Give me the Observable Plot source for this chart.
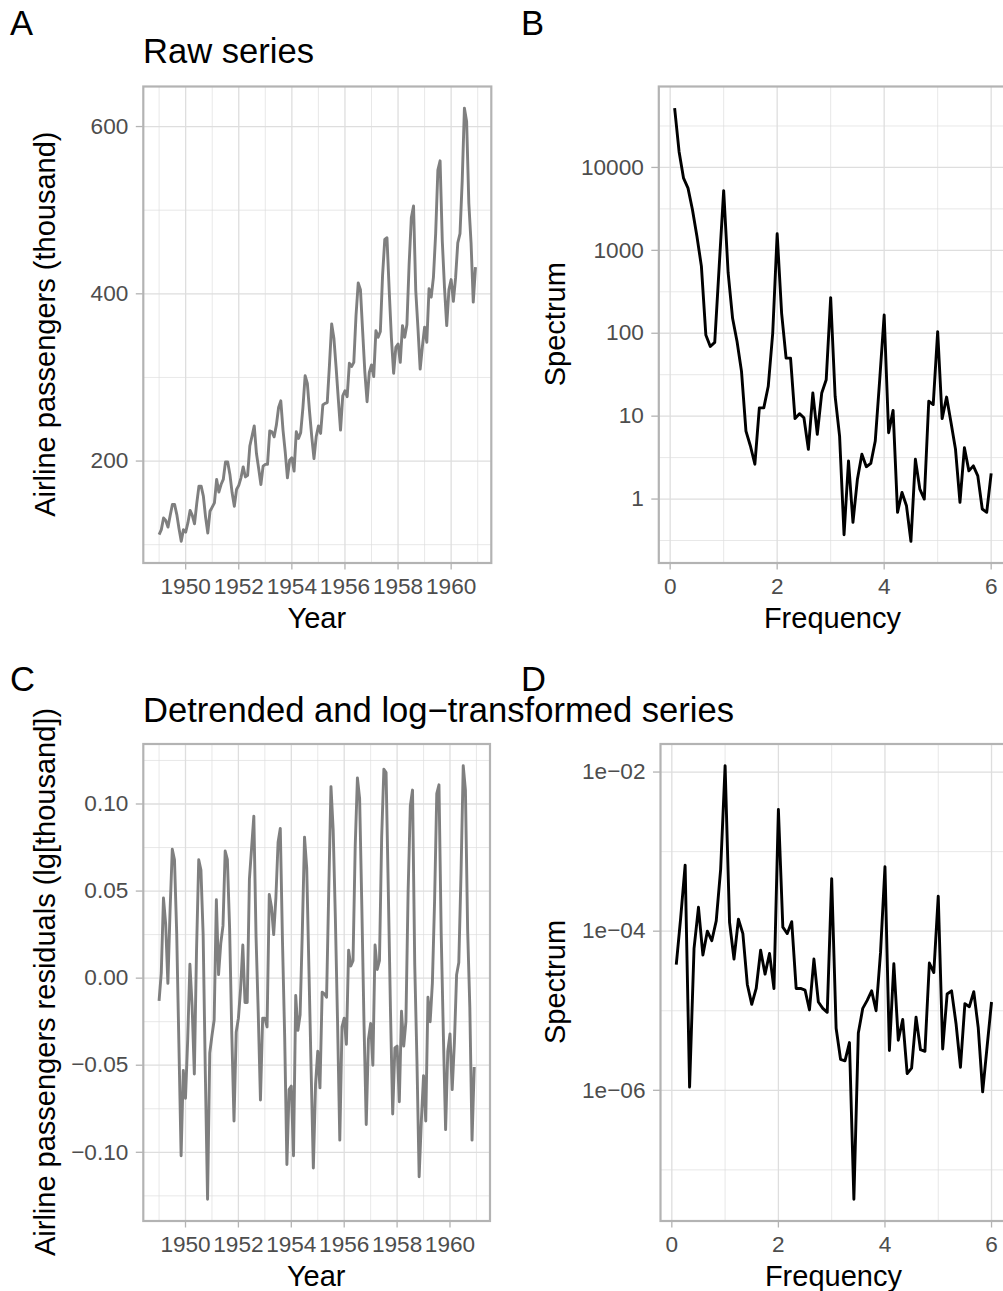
<!DOCTYPE html>
<html><head><meta charset="utf-8">
<script src="https://cdn.jsdelivr.net/npm/d3@7"></script>
<script src="https://cdn.jsdelivr.net/npm/@observablehq/plot@0.6"></script>
<style>
html,body{margin:0;padding:0;background:#fff;overflow:hidden;}
#page{position:relative;width:1003px;height:1291px;overflow:hidden;font-family:"Liberation Sans",Arial,sans-serif;}
.pane{position:absolute;}
.pane svg{max-width:none!important;}
g[aria-label$="tick"]{stroke:#b3b3b3;}
#overlay{position:absolute;left:0;top:0;pointer-events:none;}
</style>
</head><body><div id="page"></div>
<script>
// ---- data ----
const startYear = 1949;
const monthsPerYear = 12;
const passengers = [
112,118,132,129,121,135,148,148,136,119,104,118,
115,126,141,135,125,149,170,170,158,133,114,140,
145,150,178,163,172,178,199,199,184,162,146,166,
171,180,193,181,183,218,230,242,209,191,172,194,
196,196,236,235,229,243,264,272,237,211,180,201,
204,188,235,227,234,264,302,293,259,229,203,229,
242,233,267,269,270,315,364,347,312,274,237,278,
284,277,317,313,318,374,413,405,355,306,271,306,
315,301,356,348,355,422,465,467,404,347,305,336,
340,318,362,348,363,435,491,505,404,359,310,337,
360,342,406,396,420,472,548,559,463,407,362,405,
417,391,419,461,472,535,622,606,508,461,390,432];
const residuals = [
-0.013,0.003,0.046,0.031,-0.003,0.039,0.074,0.068,0.026,-0.038,-0.102,-0.053,
-0.069,-0.035,0.008,-0.016,-0.055,0.016,0.068,0.062,0.025,-0.055,-0.127,-0.043,
-0.033,-0.024,0.045,0.002,0.020,0.030,0.073,0.068,0.029,-0.032,-0.082,-0.031,
-0.023,-0.006,0.019,-0.014,-0.014,0.057,0.075,0.093,0.024,-0.020,-0.070,-0.023,
-0.023,-0.028,0.048,0.041,0.025,0.046,0.078,0.086,0.021,-0.034,-0.107,-0.064,
-0.062,-0.102,-0.010,-0.030,-0.021,0.027,0.081,0.063,0.005,-0.053,-0.109,-0.061,
-0.042,-0.063,-0.008,-0.009,-0.011,0.051,0.110,0.085,0.034,-0.026,-0.093,-0.028,
-0.023,-0.038,0.016,0.007,0.010,0.076,0.115,0.103,0.041,-0.027,-0.084,-0.035,
-0.026,-0.050,0.019,0.005,0.010,0.081,0.120,0.118,0.051,-0.019,-0.078,-0.040,
-0.039,-0.071,-0.019,-0.039,-0.025,0.050,0.099,0.108,0.008,-0.047,-0.114,-0.082,
-0.056,-0.082,-0.011,-0.025,-0.003,0.044,0.106,0.111,0.026,-0.033,-0.087,-0.042,
-0.032,-0.064,-0.037,0.002,0.009,0.060,0.122,0.108,0.028,-0.017,-0.093,-0.051];
// spectra, as log10 of the spectral density, at frequencies 1/12 ... 6 cycles per year
const specRawLog10 = [
4.715,4.19,3.87,3.75,3.49,3.17,2.81,1.98,1.84,1.89,2.81,3.72,
2.73,2.18,1.90,1.54,0.82,0.64,0.42,1.10,1.10,1.36,2.00,3.20,
2.24,1.70,1.70,0.97,1.03,0.98,0.60,1.28,0.78,1.28,1.44,2.43,
1.24,0.76,-0.43,0.46,-0.28,0.24,0.54,0.39,0.43,0.70,1.44,2.22,
0.80,1.07,-0.16,0.08,-0.08,-0.51,0.48,0.12,0.00,1.18,1.14,2.02,
0.97,1.23,0.92,0.60,-0.04,0.62,0.34,0.40,0.28,-0.12,-0.16,0.31];
const specDetLog10 = [
-4.42,-3.83,-3.17,-5.96,-4.22,-3.70,-4.30,-4.00,-4.12,-3.87,-3.22,-1.92,
-3.89,-4.35,-3.85,-4.03,-4.67,-4.92,-4.72,-4.24,-4.54,-4.28,-4.72,-2.47,
-3.95,-4.03,-3.88,-4.72,-4.72,-4.74,-4.99,-4.35,-4.89,-4.97,-5.02,-3.34,
-5.22,-5.61,-5.63,-5.40,-7.37,-5.28,-4.97,-4.87,-4.75,-5.00,-4.27,-3.19,
-5.50,-4.41,-5.37,-5.11,-5.79,-5.72,-5.08,-5.49,-5.51,-4.40,-4.52,-3.56,
-5.48,-4.79,-4.75,-5.16,-5.71,-4.91,-4.95,-4.76,-5.21,-6.02,-5.45,-4.89];

// ticks
const yearTicks = [1950,1952,1954,1956,1958,1960];
const yearMinor = [1949,1951,1953,1955,1957,1959,1961];
const rawTicks = [200,400,600];
const rawMinor = [100,300,500];
const resTicks = [-0.10,-0.05,0,0.05,0.10];
const resLabels = ["\u22120.10","\u22120.05","0.00","0.05","0.10"];
const resMinor = [-0.125,-0.075,-0.025,0.025,0.075,0.125];
const freqTicks = [0,2,4,6];
const freqMinor = [1,3,5];
const rawSpecTicks = [1,10,100,1000,10000];
const rawSpecLabels = ["1","10","100","1000","10000"];
const rawSpecMinor = [0.316228,3.16228,31.6228,316.228,3162.28,31622.8];
const detSpecTicks = [1e-2,1e-4,1e-6];
const detSpecLabels = ["1e\u221202","1e\u221204","1e\u221206"];
const detSpecMinor = [1e-3,1e-5,1e-7];

// ---- tables ----
const rawTable = passengers.map((v,i)=>({t:startYear+i/monthsPerYear, v}));
const resTable = residuals.map((v,i)=>({t:startYear+i/monthsPerYear, v}));
const rawSpecTable = specRawLog10.map((e,i)=>({f:(i+1)/monthsPerYear, s:Math.pow(10,e)}));
const detSpecTable = specDetLog10.map((e,i)=>({f:(i+1)/monthsPerYear, s:Math.pow(10,e)}));

// ggplot-like 5% expansion
const expand = ([a,b]) => {const r=b-a; return [a-0.05*r, b+0.05*r];};
const expandLog = ([a,b]) => {const la=Math.log10(a), lb=Math.log10(b), r=lb-la; return [Math.pow(10,la-0.05*r), Math.pow(10,lb+0.05*r)];};
const fmt = (vals, labels) => {const m=new Map(vals.map((v,i)=>[v, labels[i]])); return d=>m.get(d);};

const FONT = '"Liberation Sans", Arial, sans-serif';
const GRID = "#dedede";
const BORDER = "#b3b3b3";
const TICKTXT = "#4d4d4d";

function panel({left, top, width, height, margins, data, x, y, xDomain, yDomain, yType, xTicks, xLabels, xMinor, yTicks, yLabels, yMinor, stroke}) {
  const p = Plot.plot({
    width, height,
    marginLeft: margins[0], marginRight: margins[1], marginTop: margins[2], marginBottom: margins[3],
    style: {fontFamily: FONT, background: "transparent", overflow: "visible"},
    x: {domain: xDomain, label: null},
    y: {domain: yDomain, type: yType || "linear", label: null},
    marks: [
      Plot.gridX(xMinor, {stroke: GRID, strokeOpacity: 1, strokeWidth: 0.7}),
      Plot.gridY(yMinor, {stroke: GRID, strokeOpacity: 1, strokeWidth: 0.7}),
      Plot.gridX(xTicks, {stroke: GRID, strokeOpacity: 1, strokeWidth: 1.3}),
      Plot.gridY(yTicks, {stroke: GRID, strokeOpacity: 1, strokeWidth: 1.3}),
      Plot.line(data, {x, y, stroke, strokeWidth: 2.9, strokeLinejoin: "round", strokeLinecap: "butt"}),
      Plot.frame({stroke: BORDER, strokeWidth: 2.2}),
      Plot.axisX(xTicks, {tickSize: 7, tickPadding: 8, strokeWidth: 1.3, stroke: BORDER, fill: TICKTXT, fontSize: 22.6, tickFormat: fmt(xTicks, xLabels), label: null}),
      Plot.axisY(yTicks, {tickSize: 7, tickPadding: 8, strokeWidth: 1.3, stroke: BORDER, fill: TICKTXT, fontSize: 22.6, tickFormat: fmt(yTicks, yLabels), label: null})
    ]
  });
  const div = document.createElement("div");
  div.className = "pane";
  div.style.left = left + "px"; div.style.top = top + "px";
  div.style.width = width + "px"; div.style.height = height + "px";
  div.appendChild(p);
  document.getElementById("page").appendChild(div);
}

const tExtent = d3.extent(rawTable, d=>d.t);
const fExtent = d3.extent(rawSpecTable, d=>d.f);

// A
panel({left:0, top:0, width:500, height:650, margins:[142.8, 9.2, 86, 87.5],
  data: rawTable, x:"t", y:"v", xDomain: expand(tExtent), yDomain: expand(d3.extent(passengers)),
  xTicks: yearTicks, xLabels: yearTicks.map(String), xMinor: yearMinor,
  yTicks: rawTicks, yLabels: rawTicks.map(String), yMinor: rawMinor, stroke: "#7f7f7f"});
// B
panel({left:500, top:0, width:520, height:650, margins:[158.3, 13.5, 86, 87.5],
  data: rawSpecTable, x:"f", y:"s", xDomain: expand(fExtent), yDomain: expandLog(d3.extent(rawSpecTable, d=>d.s)), yType:"log",
  xTicks: freqTicks, xLabels: freqTicks.map(String), xMinor: freqMinor,
  yTicks: rawSpecTicks, yLabels: rawSpecLabels, yMinor: rawSpecMinor, stroke: "#000"});
// C
panel({left:0, top:650, width:500, height:641, margins:[142.8, 10.5, 93.5, 70.5],
  data: resTable, x:"t", y:"v", xDomain: expand(tExtent), yDomain: expand(d3.extent(residuals)),
  xTicks: yearTicks, xLabels: yearTicks.map(String), xMinor: yearMinor,
  yTicks: resTicks, yLabels: resLabels, yMinor: resMinor, stroke: "#7f7f7f"});
// D
panel({left:500, top:650, width:520, height:641, margins:[160, 13.2, 93.5, 70.5],
  data: detSpecTable, x:"f", y:"s", xDomain: expand(fExtent), yDomain: expandLog(d3.extent(detSpecTable, d=>d.s)), yType:"log",
  xTicks: freqTicks, xLabels: freqTicks.map(String), xMinor: freqMinor,
  yTicks: detSpecTicks, yLabels: detSpecLabels, yMinor: detSpecMinor, stroke: "#000"});

// ---- free text: tags, titles, axis titles ----
const texts = [
  {s:"A", x:10, y:35, size:34.6},
  {s:"B", x:521, y:35, size:34.6},
  {s:"C", x:10, y:691, size:34.6},
  {s:"D", x:521, y:691, size:34.6},
  {s:"Raw series", x:143, y:63, size:34.6},
  {s:"Detrended and log\u2212transformed series", x:143, y:722, size:34.6},
  {s:"Year", x:316.8, y:628, size:29, anchor:"middle"},
  {s:"Frequency", x:832.4, y:628, size:29, anchor:"middle"},
  {s:"Year", x:316.2, y:1286, size:29, anchor:"middle"},
  {s:"Frequency", x:833.4, y:1286, size:29, anchor:"middle"},
  {s:"Airline passengers (thousand)", x:55, y:324.2, size:29, anchor:"middle", rot:true},
  {s:"Spectrum", x:565, y:324.2, size:29, anchor:"middle", rot:true},
  {s:"Airline passengers residuals (lg[thousand])", x:55, y:982, size:29, anchor:"middle", rot:true},
  {s:"Spectrum", x:565, y:982, size:29, anchor:"middle", rot:true}
];
const ov = d3.select("#page").append("svg").attr("id","overlay").attr("width",1003).attr("height",1291);
ov.selectAll("text").data(texts).join("text")
  .attr("transform", d => d.rot ? `translate(${d.x},${d.y}) rotate(-90)` : `translate(${d.x},${d.y})`)
  .attr("text-anchor", d => d.anchor || "start")
  .attr("font-family", FONT).attr("font-size", d=>d.size).attr("fill","#000")
  .text(d=>d.s);
</script></body></html>
